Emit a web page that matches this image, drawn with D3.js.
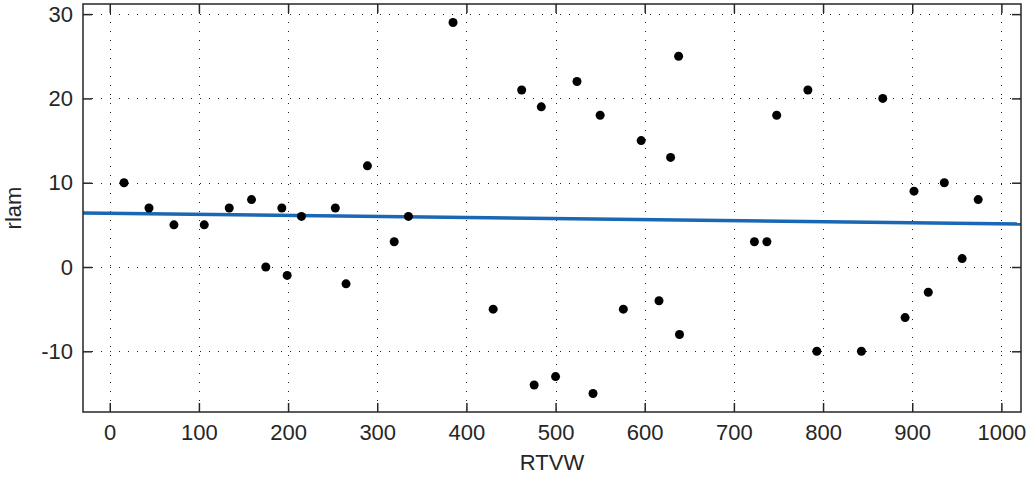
<!DOCTYPE html>
<html>
<head>
<meta charset="utf-8">
<script src="https://cdn.jsdelivr.net/npm/d3@7"></script>
<style>
  body { margin: 0; background: #fff; overflow: hidden; }
  svg { display: block; }
  text { font-family: "Liberation Sans", Arial, sans-serif; fill: #262626; }
</style>
</head>
<body>
<svg width="1029" height="479"></svg>
<script>
// data
const rtvw = [16, 44, 72, 106, 134, 159, 175, 193, 199, 215, 253, 265, 289, 319, 335,
  385, 430, 462, 476, 484, 500, 524, 542, 550, 576, 596, 616, 629, 639, 638,
  723, 737, 748, 793, 783, 843, 867, 892, 902, 918, 936, 956, 974];
const rlam = [10, 7, 5, 5, 7, 8, 0, 7, -1, 6, 7, -2, 12, 3, 6,
  29, -5, 21, -14, 19, -13, 22, -15, 18, -5, 15, -4, 13, -8, 25,
  3, 3, 18, -10, 21, -10, 20, -6, 9, -3, 10, 1, 8];
// fitted line end points
const fitX = [-30, 1022];
const fitY = [6.4, 5.1];
const xTicks = [0, 100, 200, 300, 400, 500, 600, 700, 800, 900, 1000];
const yTicks = [-10, 0, 10, 20, 30];

const svg = d3.select('svg');
const margin = { top: 4, right: 8, bottom: 67, left: 83 };
const width = +svg.attr('width');
const height = +svg.attr('height');
const innerWidth = width - margin.left - margin.right;
const innerHeight = height - margin.top - margin.bottom;

const xScale = d3.scaleLinear().domain([-30, 1022]).range([0, innerWidth]);
const yScale = d3.scaleLinear().domain([-17.2, 31.2]).range([innerHeight, 0]);
const px = (v) => Math.round(v) + 0.5;
const fmt = (d) => String(d);

const g = svg.append('g').attr('transform', `translate(${margin.left},${margin.top})`);

// dotted grid
const grid = g.append('g').attr('stroke', '#222').attr('stroke-width', 1).attr('stroke-dasharray', '1,8');
grid.selectAll('line.vx').data(xTicks).join('line')
  .attr('x1', (d) => px(xScale(d))).attr('x2', (d) => px(xScale(d)))
  .attr('y1', 0).attr('y2', innerHeight);
grid.selectAll('line.hy').data(yTicks).join('line')
  .attr('y1', (d) => px(yScale(d))).attr('y2', (d) => px(yScale(d)))
  .attr('x1', 0).attr('x2', innerWidth);

// fit line
const pts = fitX.map((x, i) => [x, fitY[i]]);
g.append('path')
  .attr('d', d3.line().x((d) => xScale(d[0])).y((d) => yScale(d[1]))(pts))
  .attr('fill', 'none')
  .attr('stroke', '#1a67b4')
  .attr('stroke-width', 3.5);

// points
g.append('g').selectAll('circle').data(rtvw).join('circle')
  .attr('cx', (d) => xScale(d))
  .attr('cy', (d, i) => yScale(rlam[i]))
  .attr('r', 4.5)
  .attr('fill', '#000');

// axes
const styleAxis = (sel) => {
  sel.select('.domain').remove();
  sel.selectAll('.tick line').attr('stroke', '#262626').attr('stroke-width', 1.5);
  sel.selectAll('.tick text').attr('font-size', 22).attr('fill', '#262626');
};
const noLabels = (sel) => sel.selectAll('.tick text').remove();

g.append('g').attr('transform', `translate(0,${innerHeight})`)
  .call(d3.axisBottom(xScale).tickValues(xTicks).tickFormat(fmt).tickSizeInner(-9).tickSizeOuter(0).tickPadding(12))
  .call(styleAxis);
g.append('g')
  .call(d3.axisTop(xScale).tickValues(xTicks).tickSizeInner(-9).tickSizeOuter(0))
  .call(styleAxis).call(noLabels);
g.append('g')
  .call(d3.axisLeft(yScale).tickValues(yTicks).tickFormat(fmt).tickSizeInner(-9).tickSizeOuter(0).tickPadding(10))
  .call(styleAxis);
g.append('g').attr('transform', `translate(${innerWidth},0)`)
  .call(d3.axisRight(yScale).tickValues(yTicks).tickSizeInner(-9).tickSizeOuter(0))
  .call(styleAxis).call(noLabels);

// box
g.append('rect')
  .attr('x', 0).attr('y', 0)
  .attr('width', innerWidth).attr('height', innerHeight)
  .attr('fill', 'none').attr('stroke', '#262626').attr('stroke-width', 1.5);

// axis labels
g.append('text')
  .attr('x', innerWidth / 2).attr('y', innerHeight + 58)
  .attr('text-anchor', 'middle').attr('font-size', 22)
  .text('RTVW');
g.append('text')
  .attr('transform', `translate(${-62},${innerHeight / 2}) rotate(-90)`)
  .attr('text-anchor', 'middle').attr('font-size', 22)
  .text('rlam');
</script>
</body>
</html>
